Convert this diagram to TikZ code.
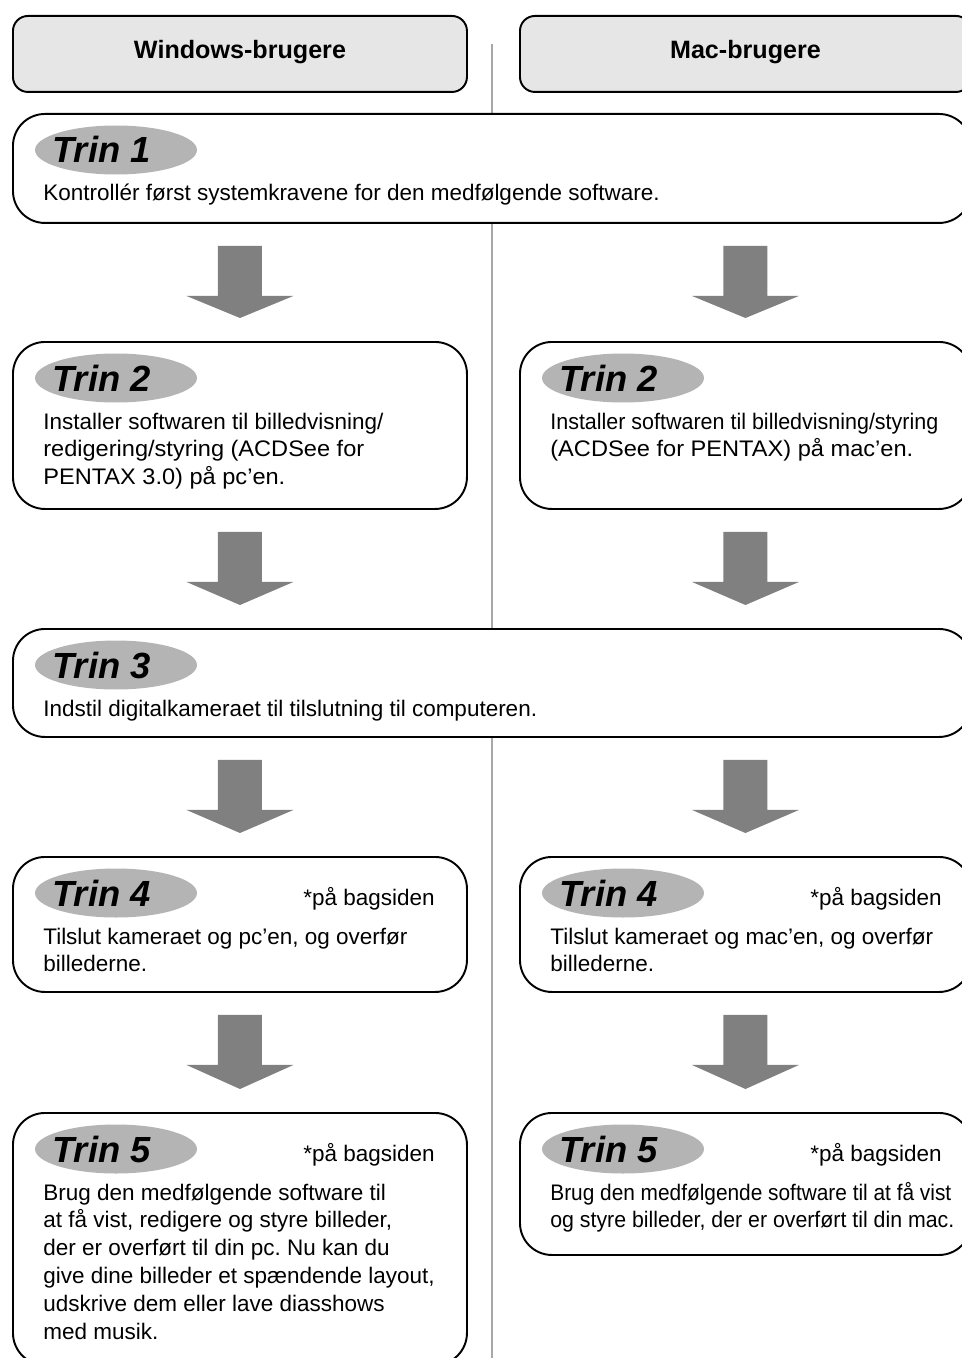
\documentclass[tikz,border=0pt]{standalone}
\usepackage{fontspec}
\setmainfont{Liberation Sans}
\usepackage{graphicx}
\usetikzlibrary{calc,shapes.geometric}
\frenchspacing

\definecolor{headgray}{HTML}{E6E6E6}
\definecolor{pillgray}{HTML}{B4B4B4}
\definecolor{flowgray}{HTML}{808080}
\definecolor{rulegray}{HTML}{A8A8A8}

\newcommand{\bodyfont}{\fontsize{12.8pt}{15.9pt}\selectfont}
\newcommand{\steplines}[1]{\begin{tabular}[t]{@{}l@{}}#1\end{tabular}}
\newcommand{\wideline}[2]{\resizebox{#1}{\height}{#2}}

% block arrow from the bottom of one box to the top of the next
\newcommand{\stepflow}[2]{%
  \fill[flowgray] ($(#1)+(-22,22)$) -- ($(#1)+(22,22)$) -- ($(#1)+(22,72)$)
    -- ($(#1)+(53.5,72)$) -- ($(#2)+(0,-23)$) -- ($(#1)+(-53.5,72)$)
    -- ($(#1)+(-22,72)$) -- cycle;}

\tikzset{
  boxsize/.style 2 args={minimum width=#1*0.02cm, minimum height=#2*0.02cm},
  headbox/.style={draw, line width=1.1pt, rounded corners=0.3cm, fill=headgray,
    anchor=north west, inner sep=0pt, font=\fontsize{14.3pt}{17pt}\selectfont\bfseries},
  headtext/.style={inner sep=0pt, font=\fontsize{14.3pt}{17pt}\selectfont\bfseries},
  stepbox/.style={draw, line width=1.1pt, rounded corners=0.64cm, fill=white,
    anchor=north west, inner sep=0pt},
  pill/.style={ellipse, fill=pillgray, inner sep=0pt, minimum width=3.24cm, minimum height=0.98cm},
  trinlabel/.style={anchor=base west, inner sep=0pt,
    font=\fontsize{20.7pt}{24pt}\selectfont\bfseries\itshape},
  steptext/.style={anchor=base west, inner sep=0pt, font=\bodyfont},
  backnote/.style={anchor=base east, inner sep=0pt, font=\bodyfont},
}

\begin{document}
\begin{tikzpicture}[x=0.02cm, y=-0.02cm]
\clip (0,0) rectangle (962,1358);

% =====================
% column divider
% =====================
\draw[rulegray, line width=0.8pt] (492,44) -- (492,1358);

% =====================
% headers
% =====================
\node[headbox, boxsize={454}{76}] (hwin) at (12,15) {};
\node[headbox, boxsize={451}{76}] (hmac) at (519,15) {};
\node[headtext] (hwintext) at ($(hwin.center)+(0,-2)$) {Windows-brugere};
\node[headtext] (hmactext) at ($(hmac.center)+(0,-2)$) {Mac-brugere};

% =====================
% step boxes
% =====================
\node[stepbox, boxsize={958}{109}] (t1) at (12,113) {};
\node[stepbox, boxsize={454}{167}] (t2w) at (12,341) {};
\node[stepbox, boxsize={451}{167}] (t2m) at (519,341) {};
\node[stepbox, boxsize={958}{108}] (t3) at (12,628) {};
\node[stepbox, boxsize={454}{135}] (t4w) at (12,856) {};
\node[stepbox, boxsize={451}{135}] (t4m) at (519,856) {};
\node[stepbox, boxsize={454}{252}] (t5w) at (12,1112) {};
\node[stepbox, boxsize={451}{142}] (t5m) at (519,1112) {};

% =====================
% step labels
% =====================
\foreach \b/\n in {t1/1, t2w/2, t2m/2, t3/3, t4w/4, t4m/4, t5w/5, t5m/5}{
  \node[pill] (p\b) at ($(\b.north west)+(104,37)$) {};
  \node[trinlabel] (l\b) at ($(\b.north west)+(40,50)$) {Trin \n};
}
\foreach \b in {t4w, t4m, t5w, t5m}
  \node[backnote] (n\b) at ($(\b.north west)+(423,49)$) {*på bagsiden};

% =====================
% step texts
% =====================
\node[steptext] (x1) at ($(t1.north west)+(31,88)$)
  {Kontrollér først systemkravene for den medfølgende software.};
\node[steptext] (x2w) at ($(t2w.north west)+(31,88)$)
  {\steplines{Installer softwaren til billedvisning/\\\wideline{6.42cm}{redigering/styring (ACDSee for}\\\wideline{4.84cm}{PENTAX 3.0) på pc’en.}}};
\node[steptext] (x2m) at ($(t2m.north west)+(31,88)$)
  {\steplines{\wideline{7.76cm}{Installer softwaren til billedvisning/styring}\\\wideline{7.26cm}{(ACDSee for PENTAX) på mac’en.}}};
\node[steptext] (x3) at ($(t3.north west)+(31,88)$)
  {Indstil digitalkameraet til tilslutning til computeren.};
\node[steptext] (x4w) at ($(t4w.north west)+(31,88)$)
  {\steplines{Tilslut kameraet og pc’en, og overfør\\billederne.}};
\node[steptext] (x4m) at ($(t4m.north west)+(31,88)$)
  {\steplines{Tilslut kameraet og mac’en, og overfør\\billederne.}};
\node[steptext] (x5w) at ($(t5w.north west)+(31,88)$)
  {\steplines{Brug den medfølgende software til\\at få vist, redigere og styre billeder,\\der er overført til din pc. Nu kan du\\give dine billeder et spændende layout,\\udskrive dem eller lave diasshows\\med musik.}};
\node[steptext] (x5m) at ($(t5m.north west)+(31,88)$)
  {\steplines{\wideline{8.02cm}{Brug den medfølgende software til at få vist}\\\wideline{8.08cm}{og styre billeder, der er overført til din mac.}}};

% =====================
% flow arrows
% =====================
\coordinate (a1w) at (t2w.north |- t1.south);
\coordinate (a1m) at (t2m.north |- t1.south);
\coordinate (b3w) at (t2w.south |- t3.north);
\coordinate (b3m) at (t2m.south |- t3.north);
\coordinate (a3w) at (t4w.north |- t3.south);
\coordinate (a3m) at (t4m.north |- t3.south);
\stepflow{a1w}{t2w.north}
\stepflow{a1m}{t2m.north}
\stepflow{t2w.south}{b3w}
\stepflow{t2m.south}{b3m}
\stepflow{a3w}{t4w.north}
\stepflow{a3m}{t4m.north}
\stepflow{t4w.south}{t5w.north}
\stepflow{t4m.south}{t5m.north}
\end{tikzpicture}
\end{document}
